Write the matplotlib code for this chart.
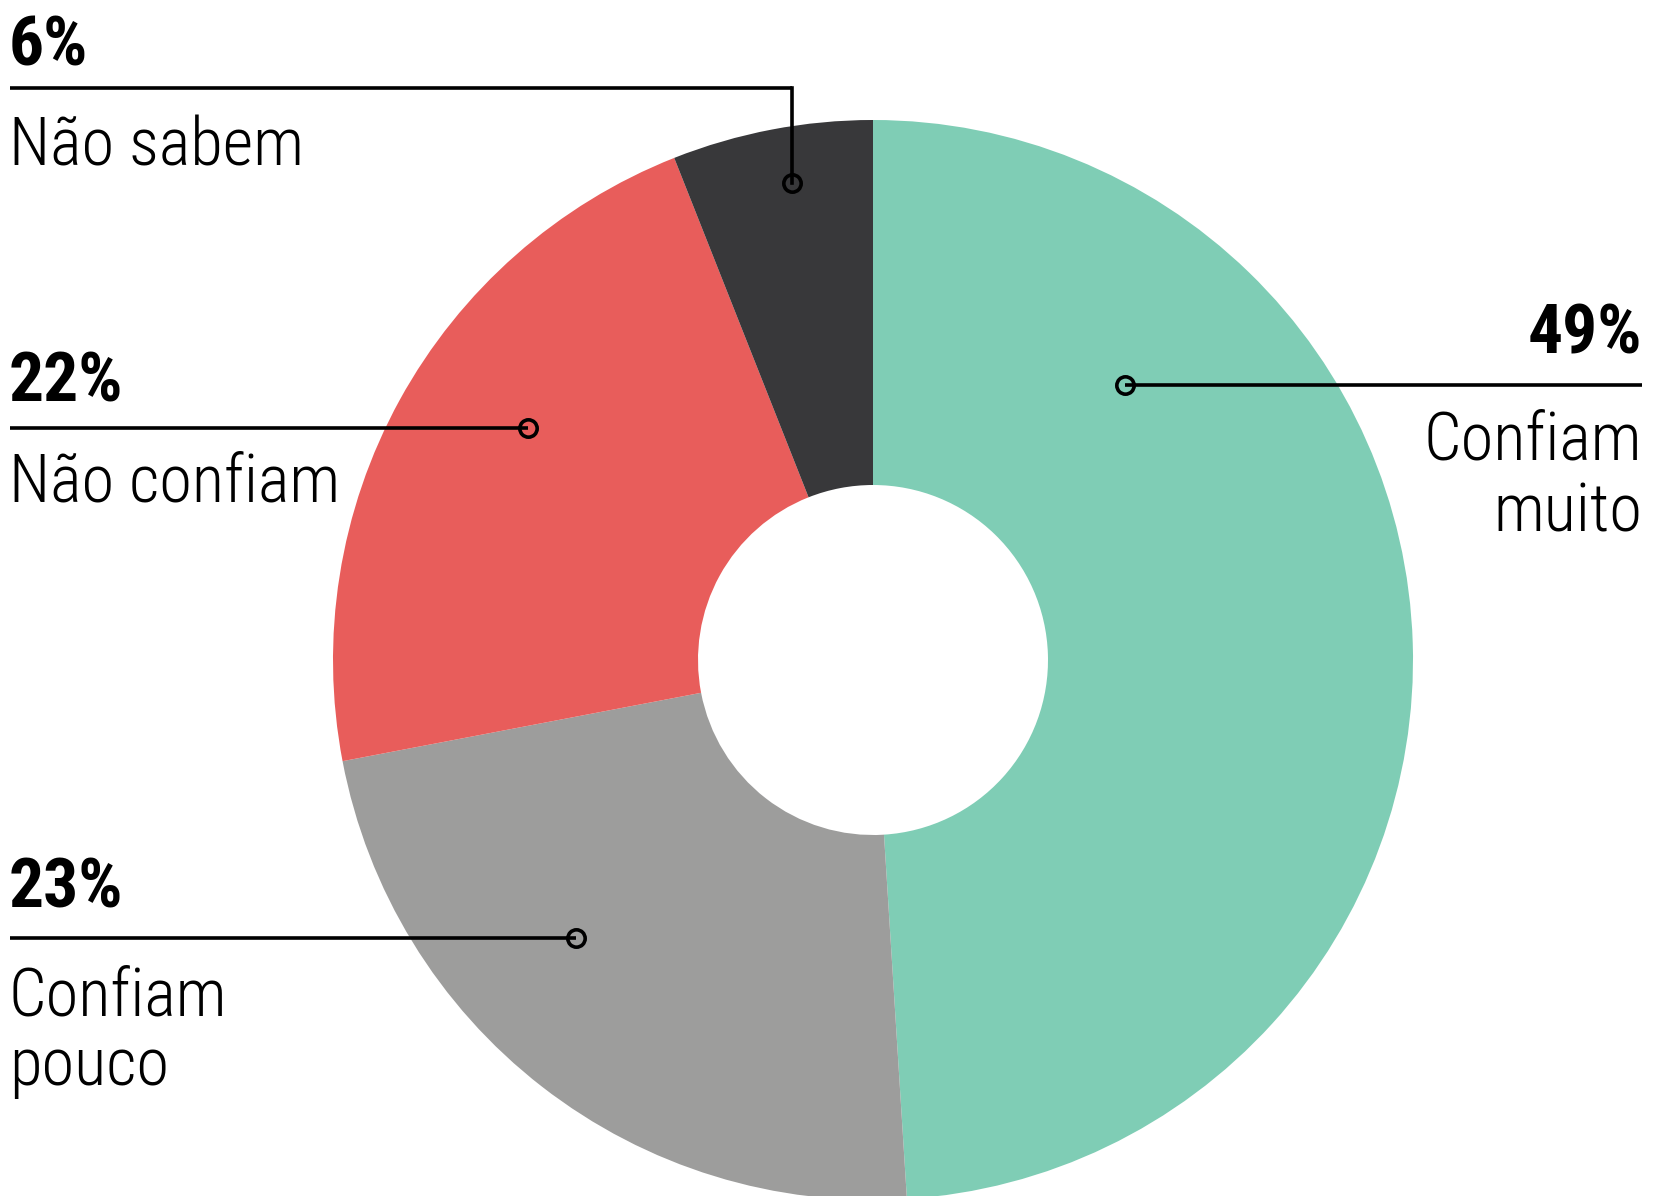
import matplotlib
matplotlib.use('Agg')
import matplotlib.pyplot as plt

# data, clockwise from the top
labels = ['Confiam\nmuito', 'Confiam\npouco', 'Não confiam', 'Não sabem']
values = [49, 23, 22, 6]
colors = ['#7fcdb5', '#9d9d9c', '#e85d5b', '#38383a']

W, H = 1665, 1196
FONT = ['Roboto Condensed', 'DejaVu Sans']

fig = plt.figure(figsize=(W / 100, H / 100), dpi=100)
ax = fig.add_axes([0, 0, 1, 1])

# y axis inverted -> counterclock=True draws clockwise on screen, start -90 is the top
ax.pie(values, colors=colors, center=(873, 660), radius=540,
       startangle=-90, counterclock=True,
       wedgeprops=dict(width=365, linewidth=0))

ax.set_xlim(0, W)
ax.set_ylim(H, 0)
ax.set_aspect('auto')
ax.axis('off')

# annotation layout (pixels): text x, align, pct baseline, rule y, rule x range,
# label baselines, dot
layout = [
    dict(x=1642, ha='right', pct_y=354, rule_y=385, rx=(1125, 1642),
         lab_y=460, step=71, dot=(1125, 385)),
    dict(x=9, ha='left', pct_y=907, rule_y=938, rx=(10, 576),
         lab_y=1016, step=69, dot=(576, 938)),
    dict(x=9, ha='left', pct_y=402, rule_y=428, rx=(10, 528),
         lab_y=502, step=70, dot=(528, 428)),
    dict(x=9, ha='left', pct_y=65, rule_y=88, rx=(10, 792),
         lab_y=166, step=70, dot=(792, 183)),
]

for lab, val, lo in zip(labels, values, layout):
    ax.text(lo['x'], lo['pct_y'], f'{val}%', ha=lo['ha'], va='baseline',
            fontsize=50, fontweight='black', fontstretch='condensed',
            family=FONT, color='black')
    ax.plot(lo['rx'], [lo['rule_y'], lo['rule_y']], color='black', lw=2.6,
            solid_capstyle='butt')
    dx, dy = lo['dot']
    if dy != lo['rule_y']:
        # elbow down to the dot
        ax.plot([dx, dx], [lo['rule_y'], dy], color='black', lw=2.6,
                solid_capstyle='projecting')
    ax.plot([dx], [dy], marker='o', ms=12.5, mfc='none', mec='black', mew=2.6)
    for i, part in enumerate(lab.split('\n')):
        ax.text(lo['x'], lo['lab_y'] + i * lo['step'], part, ha=lo['ha'],
                va='baseline', fontsize=48, fontweight='light',
                fontstretch='condensed', family=FONT, color='black')

fig.savefig('out.png', dpi=100, facecolor='white')
